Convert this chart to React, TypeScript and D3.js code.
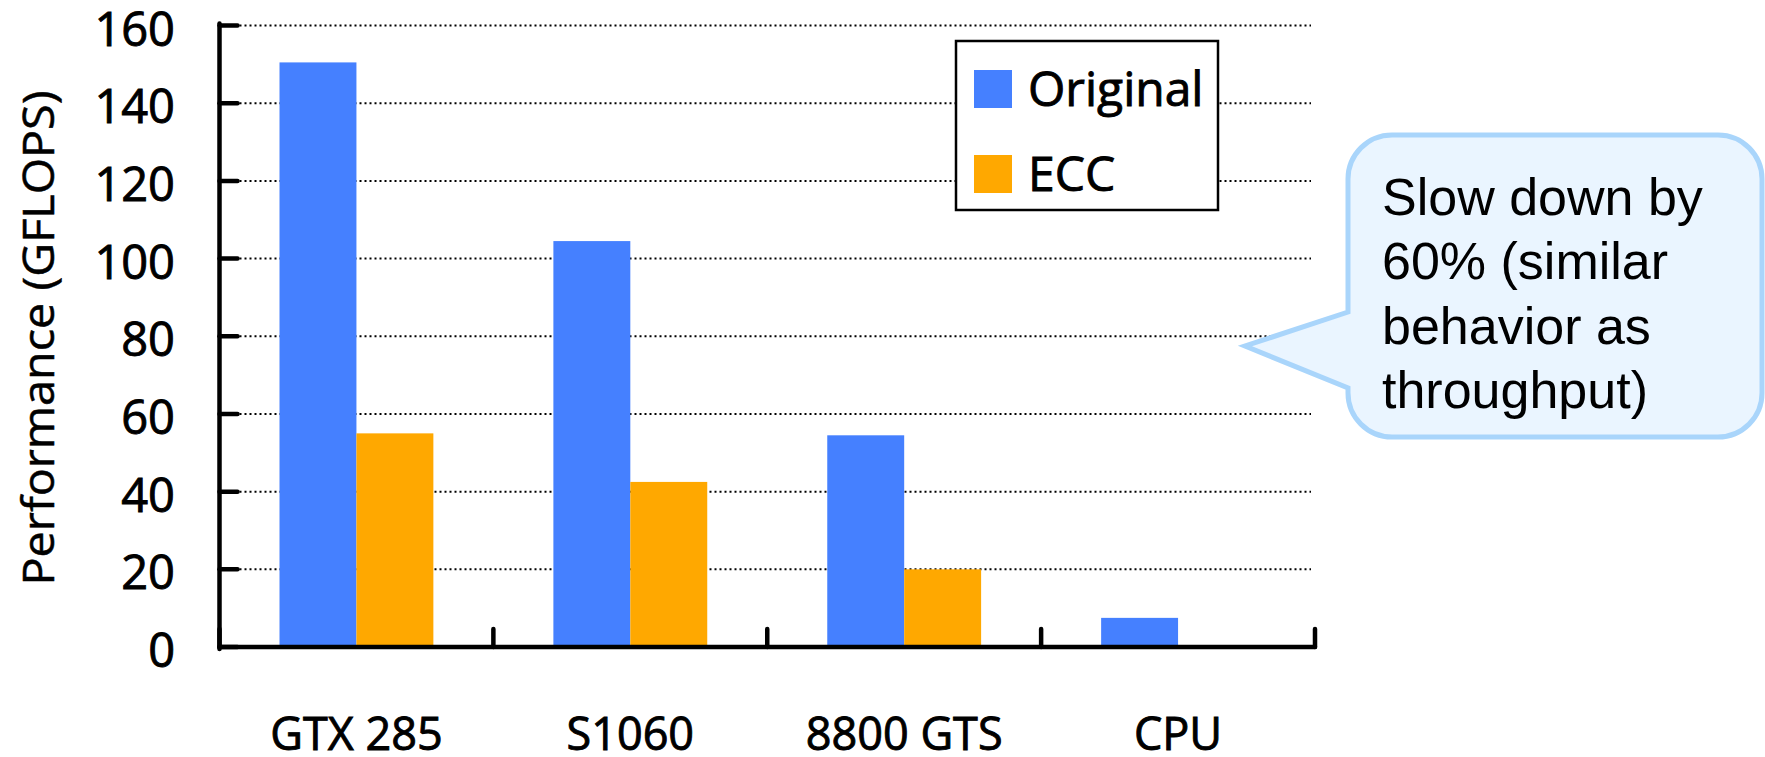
import React from "react";
import * as d3 from "d3";

// Performance of each platform with and without ECC
const categories = ["GTX 285", "S1060", "8800 GTS", "CPU"];
const seriesNames = ["Original", "ECC"];
const originalValues = [150.5, 104.5, 54.5, 7.5];
const eccValues: (number | null)[] = [55, 42.5, 20, null];
const yTicks = [0, 20, 40, 60, 80, 100, 120, 140, 160];
const calloutLines = ["Slow down by", "60% (similar", "behavior as", "throughput)"];

const WIDTH = 1765;
const HEIGHT = 757;
const colors: Record<string, string> = { Original: "#4580FF", ECC: "#FFA800" };
const labelFont = "'Open Sans', 'Noto Sans', sans-serif";
// a light outline gives the regular face a slightly heavier stem
const labelStroke = { stroke: "#000", strokeWidth: 0.9 };

export default function App() {
  const x0 = d3.scaleBand<string>().domain(categories).range([219.5, 1315]).paddingInner(0).paddingOuter(0);
  const x1 = d3
    .scaleBand<string>()
    .domain(seriesNames)
    .range([0, x0.bandwidth()])
    .paddingInner(0)
    .paddingOuter(0.78);
  const y = d3.scaleLinear().domain([0, 160]).range([647, 25.5]);

  const rows = categories.map((c, i) => ({
    cat: c,
    values: [
      { key: "Original", v: originalValues[i] },
      { key: "ECC", v: eccValues[i] },
    ],
  }));

  const plotLeft = x0.range()[0];
  const plotRight = x0.range()[1];
  const boundaries = [...categories.map((c) => x0(c) as number), plotRight];

  // speech bubble outline
  const L = 1348, T = 135, R = 1762, B = 437, r = 44;
  const tipX = 1245, tipY = 346, baseTop = 312, baseBot = 388;
  const p = d3.path();
  p.moveTo(L + r, T);
  p.lineTo(R - r, T);
  p.arcTo(R, T, R, T + r, r);
  p.lineTo(R, B - r);
  p.arcTo(R, B, R - r, B, r);
  p.lineTo(L + r, B);
  p.arcTo(L, B, L, B - r, r);
  p.lineTo(L, baseBot);
  p.lineTo(tipX, tipY);
  p.lineTo(L, baseTop);
  p.lineTo(L, T + r);
  p.arcTo(L, T, L + r, T, r);
  p.closePath();

  return (
    <svg
      width={WIDTH}
      height={HEIGHT}
      style={{ position: "absolute", left: 0, top: 0, background: "#fff" }}
    >
      {/* dotted gridlines */}
      {yTicks
        .filter((t) => t > 0)
        .map((t) => (
          <line
            key={"g" + t}
            x1={plotLeft}
            x2={1311}
            y1={y(t)}
            y2={y(t)}
            stroke="#000"
            strokeWidth={2}
            strokeDasharray="2 3"
          />
        ))}

      {/* bars */}
      {rows.map((row) => (
        <g key={row.cat} transform={`translate(${x0(row.cat)},0)`}>
          {row.values
            .filter((d) => d.v != null)
            .map((d) => (
              <rect
                key={d.key}
                x={x1(d.key)}
                y={y(d.v as number)}
                width={x1.bandwidth()}
                height={y(0) - y(d.v as number)}
                fill={colors[d.key]}
              />
            ))}
        </g>
      ))}

      {/* y axis */}
      <line x1={plotLeft} x2={plotLeft} y1={y(160) - 2} y2={y(0) + 2} stroke="#000" strokeWidth={4.5} strokeLinecap="round" />
      {yTicks.map((t) => (
        <g key={"t" + t}>
          <line x1={plotLeft} x2={plotLeft + 18} y1={y(t)} y2={y(t)} stroke="#000" strokeWidth={4.5} strokeLinecap="round" />
          <text
            x={175}
            y={y(t) + 20}
            textAnchor="end"
            fontFamily={labelFont}
            fontSize={47}
            fill="#000"
            {...labelStroke}
          >
            {t}
          </text>
        </g>
      ))}

      {/* x axis */}
      <line x1={plotLeft} x2={plotRight} y1={y(0)} y2={y(0)} stroke="#000" strokeWidth={4.5} strokeLinecap="round" />
      {boundaries.map((bx, i) => (
        <line key={"xb" + i} x1={bx} x2={bx} y1={y(0)} y2={y(0) - 18} stroke="#000" strokeWidth={4.5} strokeLinecap="round" />
      ))}
      {categories.map((c) => (
        <text
          key={"xl" + c}
          x={(x0(c) as number) + x0.bandwidth() / 2}
          y={750}
          textAnchor="middle"
          fontFamily={labelFont}
          fontSize={45}
          fill="#000"
          {...labelStroke}
        >
          {c}
        </text>
      ))}

      {/* y axis title */}
      <text
        transform="translate(54,338) rotate(-90)"
        textAnchor="middle"
        fontFamily={labelFont}
        fontSize={44}
        textLength={495}
        lengthAdjust="spacingAndGlyphs"
        fill="#000"
        stroke="#000"
        strokeWidth={0.5}
      >
        Performance (GFLOPS)
      </text>

      {/* legend */}
      <rect x={956} y={41} width={262} height={169} fill="#fff" stroke="#000" strokeWidth={2.5} />
      {seriesNames.map((s, i) => (
        <g key={"lg" + s}>
          <rect x={974} y={70 + i * 85} width={38} height={38} fill={colors[s]} />
          <text x={1028} y={106 + i * 85} fontFamily={labelFont} fontSize={48} fill="#000" {...labelStroke}>
            {s}
          </text>
        </g>
      ))}

      {/* callout */}
      <path d={p.toString()} fill="#EAF5FF" stroke="#A9D5FB" strokeWidth={5} strokeLinejoin="miter" />
      {calloutLines.map((line, i) => (
        <text
          key={"cl" + i}
          x={1382}
          y={215 + i * 64.3}
          fontFamily="'Liberation Sans', Arial, sans-serif"
          fontSize={52}
          fill="#000"
        >
          {line}
        </text>
      ))}
    </svg>
  );
}
